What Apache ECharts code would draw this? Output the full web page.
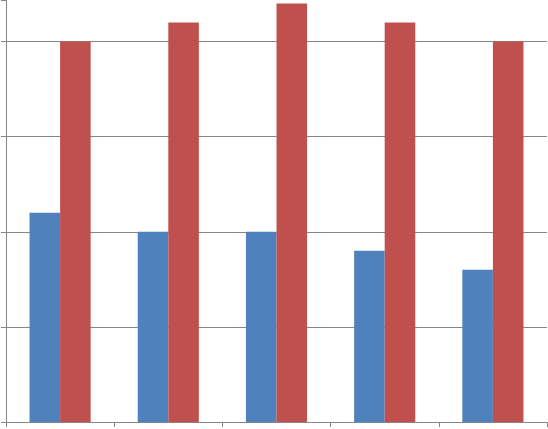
<!DOCTYPE html>
<html><head><meta charset="utf-8">
<script src="https://cdn.jsdelivr.net/npm/echarts@6/dist/echarts.min.js"></script>
<style>html,body{margin:0;padding:0;background:#fff}#c{width:548px;height:429px}</style>
</head><body><div id="c"></div>
<script>
var categories = ['1', '2', '3', '4', '5'];
var seriesA = [2.2, 2.0, 2.0, 1.8, 1.6];
var seriesB = [4.0, 4.2, 4.4, 4.2, 4.0];
var chart = echarts.init(document.getElementById('c'));
chart.setOption({
  animation: false,
  grid: { left: 6, right: 1, top: 0, bottom: 7, containLabel: false },
  xAxis: {
    type: 'category', data: categories, boundaryGap: true,
    axisLine: { lineStyle: { color: '#868686', width: 1 } },
    axisTick: { show: true, length: 5, lineStyle: { color: '#868686' } },
    axisLabel: { show: false }, splitLine: { show: false }
  },
  yAxis: {
    type: 'value', min: 0, max: 4.437, interval: 1,
    axisLine: { show: true, lineStyle: { color: '#868686', width: 1 } },
    axisTick: { show: true, length: 5, lineStyle: { color: '#868686' } },
    axisLabel: { show: false },
    splitLine: { show: true, showMaxLine: false, lineStyle: { color: '#868686', width: 1 } }
  },
  series: [
    { type: 'bar', data: seriesA, itemStyle: { color: '#4F81BD' }, barGap: '0%', barCategoryGap: '43.5%' },
    { type: 'bar', data: seriesB, itemStyle: { color: '#C0504D' }, barGap: '0%', barCategoryGap: '43.5%' }
  ]
});
</script></body></html>
